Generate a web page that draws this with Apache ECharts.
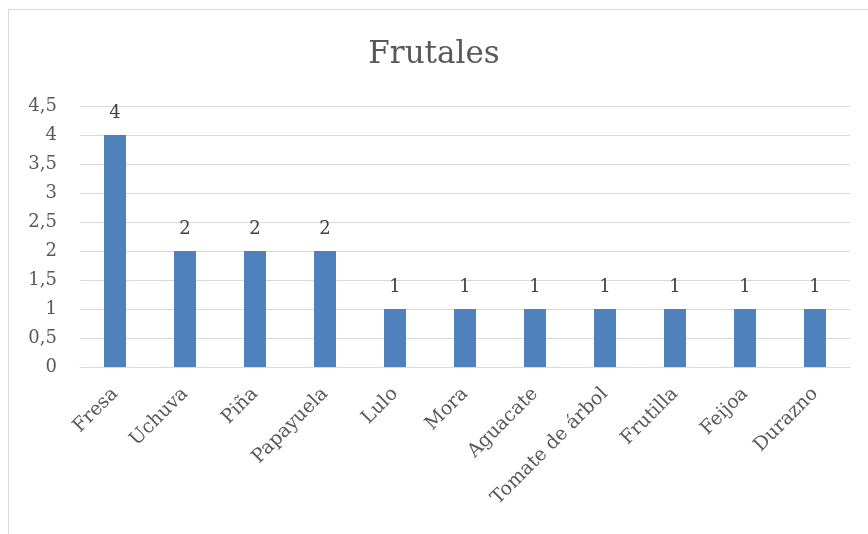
<!DOCTYPE html>
<html>
<head>
<meta charset="utf-8">
<script src="https://cdn.jsdelivr.net/npm/echarts@6/dist/echarts.min.js"></script>
<style>
html, body { margin: 0; padding: 0; background: #fff; }
#chart { width: 868px; height: 534px; }
</style>
</head>
<body>
<div id="chart"></div>
<script>
// frutas y cantidades
var frutas = ['Fresa', 'Uchuva', 'Piña', 'Papayuela', 'Lulo', 'Mora', 'Aguacate', 'Tomate de árbol', 'Frutilla', 'Feijoa', 'Durazno'];
var cantidades = [4, 2, 2, 2, 1, 1, 1, 1, 1, 1, 1];
var titulo = 'Frutales';

var fuente = 'DejaVu Serif';
var gris = '#595959';

var myChart = echarts.init(document.getElementById('chart'));

var option = {
    backgroundColor: '#fff',
    animation: false,
    title: {
        text: titulo,
        left: 'center',
        top: 34,
        textStyle: { fontFamily: fuente, fontSize: 31, fontWeight: 'normal', color: gris }
    },
    grid: { left: 80, right: 18, top: 106, bottom: 167 },
    // marco del gráfico (solo arriba e izquierda visibles)
    graphic: [
        { type: 'line', shape: { x1: 8.5, y1: 9.5, x2: 868, y2: 9.5 }, style: { stroke: '#d9d9d9', lineWidth: 1 } },
        { type: 'line', shape: { x1: 8.5, y1: 9.5, x2: 8.5, y2: 534 }, style: { stroke: '#d9d9d9', lineWidth: 1 } }
    ],
    xAxis: {
        type: 'category',
        data: frutas,
        axisLine: { lineStyle: { color: '#d9d9d9', width: 1 } },
        axisTick: { show: false },
        axisLabel: {
            rotate: 45,
            interval: 0,
            margin: 24,
            fontFamily: fuente,
            fontSize: 19,
            color: gris
        }
    },
    yAxis: {
        type: 'value',
        min: 0,
        max: 4.5,
        interval: 0.5,
        axisLine: { show: false },
        axisTick: { show: false },
        splitLine: { lineStyle: { color: '#d9d9d9', width: 1 } },
        axisLabel: {
            margin: 23,
            fontFamily: fuente,
            fontSize: 18,
            color: gris,
            formatter: function (v) { return String(v).replace('.', ','); }
        }
    },
    series: [{
        type: 'bar',
        data: cantidades,
        barWidth: 22,
        itemStyle: { color: '#4f81bd' },
        label: {
            show: true,
            position: 'top',
            distance: 13,
            fontFamily: fuente,
            fontSize: 18,
            color: '#404040'
        }
    }]
};

myChart.setOption(option);
</script>
</body>
</html>
